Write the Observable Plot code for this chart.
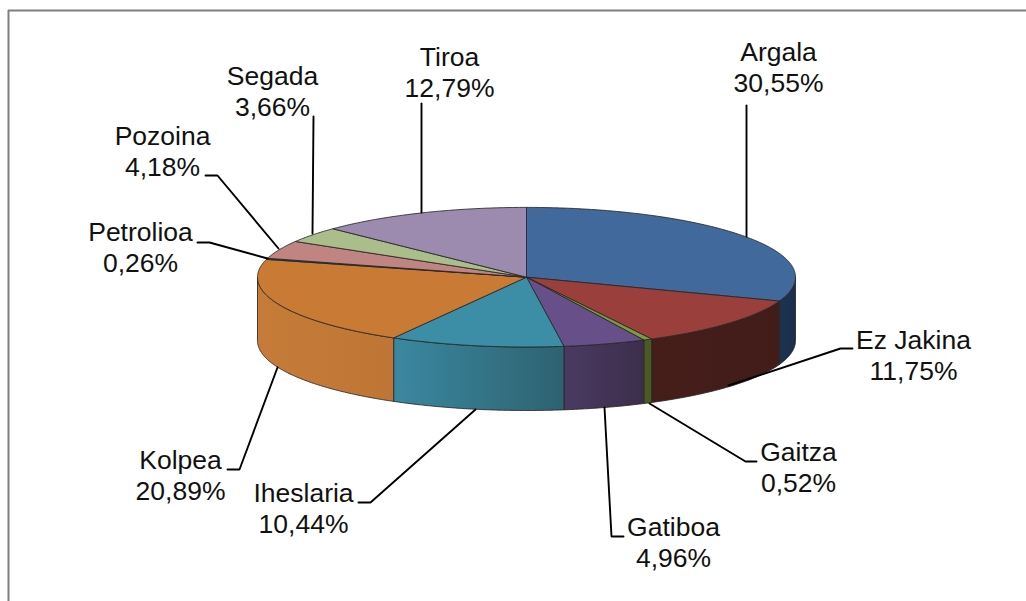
<!DOCTYPE html>
<html>
<head>
<meta charset="utf-8">
<style>html,body{margin:0;padding:0;background:#fff}svg{display:block}</style>
<script src="https://cdn.jsdelivr.net/npm/d3@7"></script>
<script src="https://cdn.jsdelivr.net/npm/@observablehq/plot@0.6"></script>
</head>
<body>
<div id="chart"></div>
<script>
// Data
const names = ["Argala","Ez Jakina","Gaitza","Gatiboa","Iheslaria","Kolpea","Petrolioa","Pozoina","Segada","Tiroa"];
const shares = [30.55,11.75,0.52,4.96,10.44,20.89,0.26,4.18,3.66,12.79];
const shareLabels = ["30,55%","11,75%","0,52%","4,96%","10,44%","20,89%","0,26%","4,18%","3,66%","12,79%"];

// Styles
const topColors = ["#41699b","#9a3f3b","#7d9a3c","#67508a","#3b8ea5","#c97a34","#2c4d75","#c08482","#abbd8a","#9c8bae"];
const wallFrom  = ["#1c3350","#451e1a","#4a5a25","#4a3a62","#3a88a0","#c67c38","#1c3350","#804a48","#6d7d50","#5f5078"];
const wallTo    = ["#1a2f4a","#421c19","#4a5a25","#3c2e4b","#2e6270","#bf7535","#1c3350","#804a48","#6d7d50","#5f5078"];

// Layout: projected pie geometry (in the chart's own x/y units)
const W = 1026, H = 601;
const pie = {cx: 526, cy: 276.7, rx: 269, ry: 69.8, depth: 63.5};
const labelX = [778,913,798,673,303,180,140,162,272,449];
const labelY = [66.5,354.5,466.5,541.5,507.5,474.5,246.5,150,90.5,71];
const leaderX = [[746,746],[852,840,728],[756,745,649],[623,611,604],[358,370,475],[227,239,277],[197,209,267],[205,217,278],[313,312],[421,421]];
const leaderY = [[105,236],[348,348,385],[461,461,403],[536,536,407],[502,502,409],[469,469,367],[242,242,258],[175,175,248],[116,233],[103,212]];

// Derive slice angles from the shares (degrees clockwise from the top)
const total = d3.sum(shares);
let acc = 0;
const slices = names.map((name, i) => {
  const a0 = acc / total * 360;
  acc += shares[i];
  return {name, i, a0, a1: acc / total * 360};
});
const px = a => pie.cx + pie.rx * Math.sin(a * Math.PI / 180);
const py = a => pie.cy - pie.ry * Math.cos(a * Math.PI / 180);
const arc = (a0, a1) => {
  const n = Math.max(2, Math.ceil((a1 - a0) / 0.5) + 1);
  return d3.range(n).map(k => a0 + (a1 - a0) * k / (n - 1));
};

const topRows = s => {
  const pts = arc(s.a0, s.a1).map(a => ({x: px(a), y: py(a)}));
  return [{x: pie.cx, y: pie.cy}, ...pts, {x: pie.cx, y: pie.cy}];
};
const wallRows = s => {
  const a0 = Math.max(s.a0, 90), a1 = Math.min(s.a1, 270);
  if (a1 <= a0) return null;
  const as = arc(a0, a1);
  const up = as.map(a => ({x: px(a), y: py(a)}));
  const down = as.slice().reverse().map(a => ({x: px(a), y: py(a) + pie.depth}));
  return [...up, ...down, up[0]];
};

// Horizontal gradients for the pie's side walls
const defs = () => {
  const d = d3.create("svg:defs");
  slices.forEach(s => {
    const g = d.append("linearGradient").attr("id", "wall" + s.i)
      .attr("x1", 0).attr("x2", 1).attr("y1", 0).attr("y2", 0);
    g.append("stop").attr("offset", "0%").attr("stop-color", wallFrom[s.i]);
    g.append("stop").attr("offset", "100%").attr("stop-color", wallTo[s.i]);
  });
  return d.node();
};

const edge = {stroke: "#262626", strokeWidth: 1, strokeOpacity: 0.85, strokeLinejoin: "round"};

const wallMarks = slices.filter(wallRows).map(s =>
  Plot.line(wallRows(s), {x: "x", y: "y", fill: `url(#wall${s.i})`, ...edge}));
const topMarks = slices.map(s =>
  Plot.line(topRows(s), {x: "x", y: "y", fill: topColors[s.i], ...edge}));
const leaderMarks = slices.map(s =>
  Plot.line(leaderX[s.i].map((x, k) => ({x, y: leaderY[s.i][k]})),
    {x: "x", y: "y", stroke: "#000", strokeWidth: 1.9, strokeLinejoin: "miter"}));

const chart = Plot.plot({
  width: W, height: H,
  margin: 0,
  style: {background: "#fff"},
  x: {domain: [0, W], range: [0, W], axis: null},
  y: {domain: [0, H], range: [0, H], axis: null},
  marks: [
    defs,
    Plot.ruleY([10], {x1: 8, x2: W, stroke: "#7f7f7f", strokeWidth: 2}),
    Plot.ruleX([8], {y1: 10, y2: H, stroke: "#7f7f7f", strokeWidth: 2}),
    ...wallMarks,
    ...topMarks,
    ...leaderMarks,
    Plot.text(slices, {
      x: s => labelX[s.i],
      y: s => labelY[s.i],
      text: s => s.name + "\n" + shareLabels[s.i],
      fontFamily: "Liberation Sans, Arial, sans-serif",
      fontSize: 26.5,
      lineHeight: 1.17,
      fill: "#111",
      textAnchor: "middle"
    })
  ]
});
document.getElementById("chart").append(chart);
</script>
</body>
</html>
